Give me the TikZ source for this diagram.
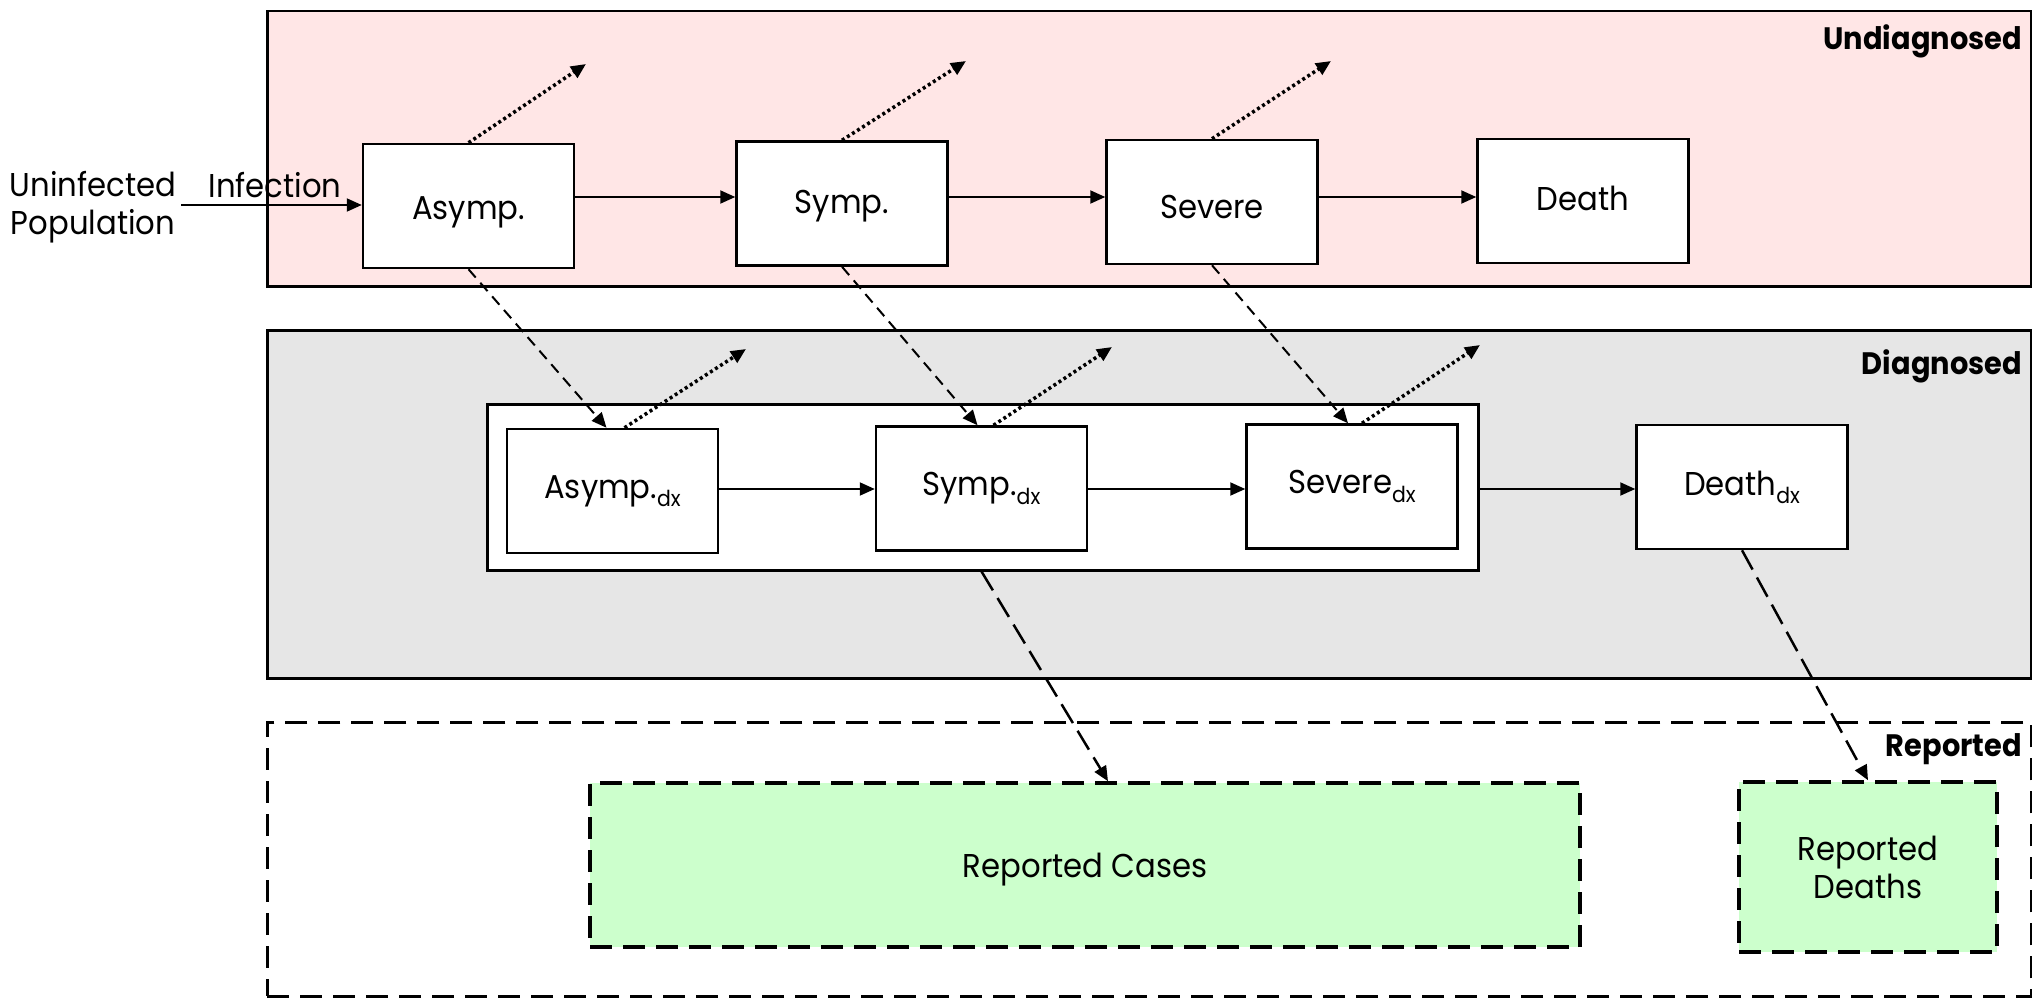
\documentclass[tikz,border=0pt]{standalone}
\usepackage{fontspec}
\setmainfont{Poppins}[FakeStretch=0.93]
\usetikzlibrary{arrows.meta}
\definecolor{undx}{HTML}{FFE6E6}
\definecolor{dxgrey}{HTML}{E6E6E6}
\definecolor{repgreen}{HTML}{CCFFCC}
\newcommand{\dxsub}{\raisebox{-0.45ex}{\fontsize{22}{22}\selectfont dx}}
\newcommand{\shiftt}[2]{\raisebox{#1}[\height][\depth]{#2}}
\begin{document}
\begin{tikzpicture}[x=1pt,y=-1pt,
  region/.style={draw, line width=2.5pt, inner sep=0pt, anchor=north west},
  box/.style={draw, line width=2.5pt, fill=white, minimum width=211pt, minimum height=124pt, inner sep=0pt, font=\fontsize{33}{38}\selectfont},
  plain/.style={font=\fontsize{33}{38}\selectfont, align=center, inner sep=0pt},
  tag/.style={font=\bfseries\fontsize{31}{36}\selectfont, anchor=east, inner sep=0pt},
  flow/.style={line width=2pt, -{Triangle[length=15pt,width=13pt]}},
  exitflow/.style={line width=3.5pt, dash pattern=on 3pt off 3pt, -{Triangle[length=15pt,width=13pt]}},
  dxflow/.style={line width=2pt, dash pattern=on 11pt off 7pt, -{Triangle[length=15pt,width=13pt]}},
  repflow/.style={line width=2.5pt, dash pattern=on 22pt off 9pt, -{Triangle[length=15pt,width=13pt]}},
  repbox/.style={draw, line width=3.5pt, dash pattern=on 22pt off 11pt, fill=repgreen, inner sep=0pt, font=\fontsize{33}{38}\selectfont, align=center}
]
\useasboundingbox (0,0) rectangle (2032,998);

% regions
\node[region, fill=undx, minimum width=1764pt, minimum height=275pt] (U) at (266,10) {};
\node[region, fill=dxgrey, minimum width=1764pt, minimum height=348pt] (D) at (266,329) {};
\node[region, dash pattern=on 22pt off 11pt, minimum width=1764pt, minimum height=274pt] (R) at (266,721) {};
\node[tag] (Ut) at (2022,41) {Undiagnosed};
\node[tag] (Dt) at (2022,366) {Diagnosed};
\node[tag] (Rt) at (2022,749) {Reported};

% top row
\node[box] (a) at (468.5,206) {\shiftt{-6pt}{Asymp.}};
\node[box] (s) at (842,203.5) {\shiftt{-3pt}{Symp.}};
\node[box] (v) at (1212,202) {\shiftt{-5pt}{Severe}};
\node[box] (d) at (1583,201) {\shiftt{3pt}{Death}};
\coordinate (row1) at (0,197);

\node[plain] (pop) at (93,207) {Uninfected\\Population};
\node[plain] (inf) at (275,185) {Infection};
\coordinate (infstart) at (181,205);
\draw[flow] (infstart) -- (infstart -| a.west);

\draw[flow] (a.east |- row1) -- (s.west |- row1);
\draw[flow] (s.east |- row1) -- (v.west |- row1);
\draw[flow] (v.east |- row1) -- (d.west |- row1);

\coordinate (ea) at (586,64);
\coordinate (es) at (966,61);
\coordinate (ev) at (1331,61);
\draw[exitflow] (a.north) -- (ea);
\draw[exitflow] (s.north) -- (es);
\draw[exitflow] (v.north) -- (ev);

% diagnosed row
\node[draw, line width=2.5pt, fill=white, minimum width=991pt, minimum height=166pt, inner sep=0pt, anchor=north west] (grp) at (486,403) {};
\node[box] (adx) at (612.5,491) {Asymp.\dxsub};
\node[box] (sdx) at (981.5,488.5) {Symp.\dxsub};
\node[box] (vdx) at (1352,486.5) {Severe\dxsub};
\node[box] (ddx) at (1742,487) {Death\dxsub};
\coordinate (row2) at (0,489);

\draw[flow] (adx.east |- row2) -- (sdx.west |- row2);
\draw[flow] (sdx.east |- row2) -- (vdx.west |- row2);
\draw[flow] (grp.east |- row2) -- (ddx.west |- row2);

\draw[dxflow] (a.south) -- ([xshift=-6pt]adx.north);
\draw[dxflow] (s.south) -- ([xshift=-4pt]sdx.north);
\draw[dxflow] (v.south) -- ([xshift=-4pt]vdx.north);

\coordinate (eadx) at (746,349);
\coordinate (esdx) at (1112,347);
\coordinate (evdx) at (1480,345);
\draw[exitflow] ([xshift=12pt]adx.north) -- (eadx);
\draw[exitflow] ([xshift=12pt]sdx.north) -- (esdx);
\draw[exitflow] ([xshift=10pt]vdx.north) -- (evdx);

% reported
\node[repbox, minimum width=990pt, minimum height=164pt] (rc) at (1085,865) {\shiftt{-5pt}{Reported Cases}};
\node[repbox, minimum width=258pt, minimum height=170pt] (rd) at (1868,867) {Reported\\Deaths};

\draw[repflow] (sdx.south |- grp.south) -- ([xshift=23pt]rc.north);
\draw[repflow] (ddx.south) -- (rd.north);
\end{tikzpicture}
\end{document}
